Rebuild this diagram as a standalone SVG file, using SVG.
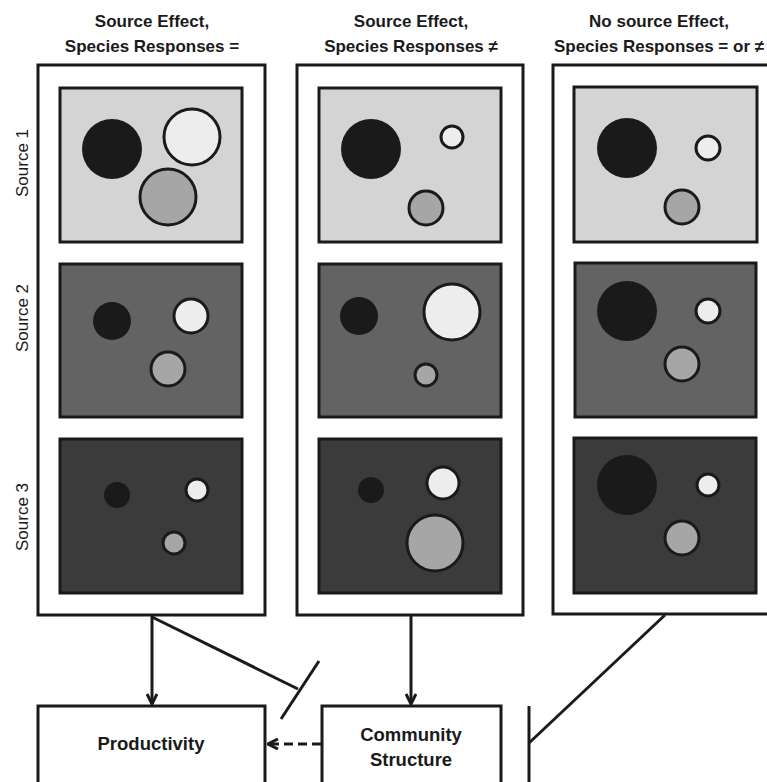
<svg xmlns="http://www.w3.org/2000/svg" width="767" height="782" viewBox="0 0 767 782">
<defs>
<style>
.outer{fill:#fff;stroke:#1a1a1a;stroke-width:3}
.r1{fill:#d4d4d4;stroke:#1a1a1a;stroke-width:3}
.r2{fill:#636363;stroke:#1a1a1a;stroke-width:3}
.r3{fill:#3b3b3b;stroke:#1a1a1a;stroke-width:3}
.k{fill:#1a1a1a}
.w{fill:#ededed;stroke:#1a1a1a;stroke-width:3}
.g{fill:#a6a6a6;stroke:#1a1a1a;stroke-width:3}
.hdr{font-family:"Liberation Sans",Arial,sans-serif;font-weight:bold;font-size:17px;fill:#1a1a1a;text-anchor:middle}
.side{font-family:"Liberation Sans",Arial,sans-serif;font-size:17px;fill:#1a1a1a;text-anchor:middle}
.box{fill:#fff;stroke:#1a1a1a;stroke-width:3}
.lbl{font-family:"Liberation Sans",Arial,sans-serif;font-weight:bold;font-size:18.5px;fill:#1a1a1a;text-anchor:middle}
.ln{stroke:#1a1a1a;stroke-width:3;fill:none}
</style>
<marker id="arr" viewBox="0 0 12 12" refX="11" refY="6" markerWidth="12" markerHeight="12" markerUnits="userSpaceOnUse" orient="auto">
<path d="M1,1 L11,6 L1,11" fill="none" stroke="#1a1a1a" stroke-width="3"/>
</marker>
</defs>
<rect width="767" height="782" fill="#fff"/>

<g id="headers">
<text class="hdr" x="152" y="27">Source Effect,</text>
<text class="hdr" x="152" y="52">Species Responses =</text>
<text class="hdr" x="411" y="27">Source Effect,</text>
<text class="hdr" x="411" y="52">Species Responses ≠</text>
<text class="hdr" x="659" y="27">No source Effect,</text>
<text class="hdr" x="659" y="52">Species Responses = or ≠</text>
</g>

<g id="side-labels">
<text class="side" transform="translate(28,163) rotate(-90)">Source 1</text>
<text class="side" transform="translate(28,318) rotate(-90)">Source 2</text>
<text class="side" transform="translate(28,517) rotate(-90)">Source 3</text>
</g>

<g id="panel1">
<rect class="outer" x="38" y="65" width="227" height="550"/>
<rect class="r1" x="60" y="88" width="182" height="154"/>
<circle class="k" cx="112" cy="149" r="30"/>
<circle class="w" cx="192" cy="137" r="28"/>
<circle class="g" cx="168" cy="197" r="28"/>
<rect class="r2" x="60" y="264" width="182" height="153"/>
<circle class="k" cx="112" cy="321" r="19"/>
<circle class="w" cx="191" cy="316" r="17"/>
<circle class="g" cx="168" cy="369" r="17"/>
<rect class="r3" x="60" y="439" width="182" height="154"/>
<circle class="k" cx="117" cy="495" r="13"/>
<circle class="w" cx="197" cy="490" r="11"/>
<circle class="g" cx="174" cy="543" r="11"/>
</g>

<g id="panel2">
<rect class="outer" x="297" y="65" width="226" height="550"/>
<rect class="r1" x="319" y="88" width="182" height="154"/>
<circle class="k" cx="371" cy="149" r="30"/>
<circle class="w" cx="452" cy="137" r="11"/>
<circle class="g" cx="426" cy="208" r="17"/>
<rect class="r2" x="319" y="264" width="182" height="153"/>
<circle class="k" cx="359" cy="316" r="19"/>
<circle class="w" cx="452" cy="312" r="28"/>
<circle class="g" cx="426" cy="375" r="11"/>
<rect class="r3" x="319" y="439" width="182" height="154"/>
<circle class="k" cx="371" cy="490" r="13"/>
<circle class="w" cx="443" cy="483" r="16"/>
<circle class="g" cx="435" cy="543" r="28"/>
</g>

<g id="panel3">
<rect class="outer" x="553" y="65" width="230" height="549"/>
<rect class="r1" x="574" y="87" width="183" height="155"/>
<circle class="k" cx="627" cy="148" r="30"/>
<circle class="w" cx="708" cy="148" r="12"/>
<circle class="g" cx="682" cy="207" r="17"/>
<rect class="r2" x="575" y="263" width="181" height="154"/>
<circle class="k" cx="627" cy="311" r="30"/>
<circle class="w" cx="708" cy="311" r="12"/>
<circle class="g" cx="682" cy="364" r="17"/>
<rect class="r3" x="574" y="438" width="182" height="155"/>
<circle class="k" cx="627" cy="485" r="30"/>
<circle class="w" cx="708" cy="485" r="11"/>
<circle class="g" cx="682" cy="538" r="17"/>
</g>

<g id="productivity">
<rect class="box" x="38" y="706" width="227" height="90"/>
<text class="lbl" x="151" y="750">Productivity</text>
</g>

<g id="community-structure">
<rect class="box" x="322" y="706" width="179" height="90"/>
<text class="lbl" x="411" y="741">Community</text>
<text class="lbl" x="411" y="766">Structure</text>
</g>

<g id="connectors">
<line class="ln" x1="152" y1="616" x2="152" y2="704" marker-end="url(#arr)"/>
<line class="ln" x1="152" y1="617" x2="298" y2="689"/>
<line class="ln" x1="319" y1="661" x2="281" y2="719"/>
<line class="ln" x1="411" y1="616" x2="411" y2="704" marker-end="url(#arr)"/>
<line class="ln" x1="321" y1="744" x2="268" y2="744" stroke-dasharray="9,5" marker-end="url(#arr)"/>
<line class="ln" x1="665" y1="615" x2="529" y2="743"/>
<line class="ln" x1="529" y1="706" x2="529" y2="782"/>
</g>
</svg>
